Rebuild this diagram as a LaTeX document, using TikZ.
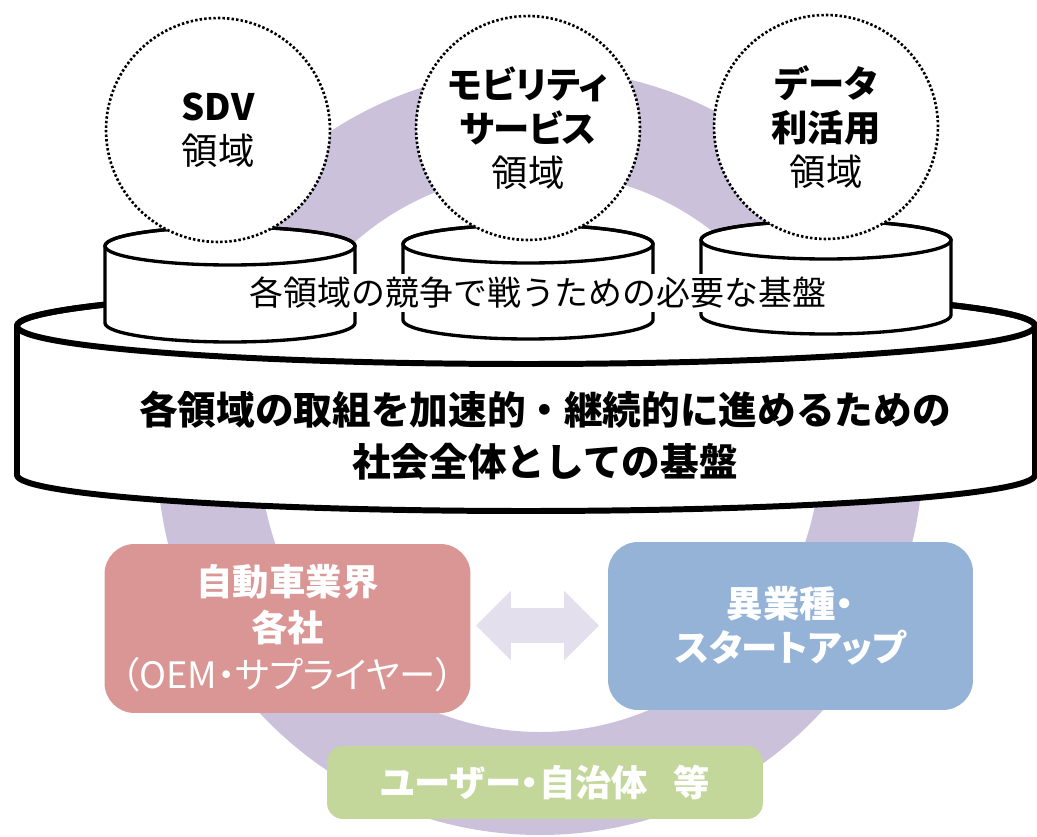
\documentclass[tikz,border=0pt]{standalone}
\usepackage{fontspec}
\setmainfont{Noto Sans CJK JP}
\newfontfamily\pf[RawFeature=+palt]{Noto Sans CJK JP}
\usetikzlibrary{shapes.arrows}
\definecolor{ringc}{HTML}{CBC1DB}
\definecolor{arrowc}{HTML}{E4DFEC}
\definecolor{pinkc}{HTML}{D99694}
\definecolor{bluec}{HTML}{95B3D7}
\definecolor{greenc}{HTML}{C4D79B}
\tikzset{
  dcirc/.style={circle, draw=black, fill=white, line width=1.5pt, dash pattern=on 1.4pt off 1.2pt,
    minimum size=4.48cm, inner sep=0pt, align=center, font=\pf\fontsize{20.7pt}{25pt}\selectfont},
  bigcyl/.style={line width=3.4pt, line join=round},
  smallcyl/.style={line width=1.9pt, line join=round},
  colbox/.style={rounded corners=0.6cm, inner sep=0pt, align=center, text=white},
}
\newcommand{\smallcylinder}[3]{%
  \filldraw[smallcyl, fill=white] (#1-125,#2) -- (#1-125,#3)
    arc[start angle=180, end angle=0, x radius=125, y radius=19] -- (#1+125,#2)
    arc[start angle=0, end angle=-180, x radius=125, y radius=19] -- cycle;
  \draw[smallcyl] (#1,#2) ellipse[x radius=125, y radius=19];
}
\begin{document}
\begin{tikzpicture}[x=0.02cm, y=-0.02cm]
\useasboundingbox (0,0) rectangle (1037,837);
\begin{scope}
  \clip (0,0) rectangle (1037,837);
  \fill[ringc, even odd rule] (540,452) circle[radius=383] (540,452) circle[radius=280];
\end{scope}
% large cylinder
\filldraw[bigcyl, fill=white] (17,326) -- (17,475)
  arc[start angle=180, end angle=0, x radius=509, y radius=36] -- (1035,326)
  arc[start angle=0, end angle=-180, x radius=509, y radius=38] -- cycle;
\draw[bigcyl] (526,326) ellipse[x radius=509, y radius=38];
\node[align=center, font=\bfseries\fontsize{22pt}{29.5pt}\selectfont] (base) at (545,436)
  {各領域の取組を加速的・継続的に進めるための\\社会全体としての基盤};
% small cylinders
\smallcylinder{230}{246}{323}
\smallcylinder{528}{244}{320}
\smallcylinder{826}{240}{315}
% dotted circles
\node[dcirc] (sdv) at (218,130) {{\bfseries SDV}\\領域};
\node[dcirc] (mob) at (528,128) {{\bfseries モビリティ}\\{\bfseries サービス}\\領域};
\node[dcirc] (dat) at (826,127) {{\bfseries データ}\\{\bfseries 利活用}\\領域};
\node[fill=white, inner xsep=1pt, inner ysep=2pt, font=\fontsize{19.3pt}{23pt}\selectfont] (comp) at (538,293)
  {各領域の競争で戦うための必要な基盤};
% boxes
\node[colbox, fill=pinkc, minimum width=7.32cm, minimum height=3.38cm,
  font=\fontsize{20.7pt}{26pt}\selectfont] (oem) at (287.5,628.5)
  {{\bfseries 自動車業界}\\{\bfseries 各社}\\[1pt]{\pf （OEM・サプライヤー）}};
\node[colbox, fill=bluec, minimum width=7.3cm, minimum height=3.36cm,
  font=\pf\bfseries\fontsize{20.7pt}{25pt}\selectfont] (start) at (790.5,626)
  {異業種・\\スタートアップ};
\node[colbox, rounded corners=0.32cm, fill=greenc, minimum width=8.72cm, minimum height=1.46cm,
  font=\pf\bfseries\fontsize{20.7pt}{25pt}\selectfont] (user) at (545,782.5)
  {ユーザー・自治体\hspace{0.7em}等};
\node[double arrow, fill=arrowc, minimum width=1.38cm, minimum height=2.46cm,
  double arrow head extend=0.35cm, inner xsep=0pt, inner ysep=0.34cm] (arr) at (537.5,625.5) {};
\end{tikzpicture}
\end{document}
